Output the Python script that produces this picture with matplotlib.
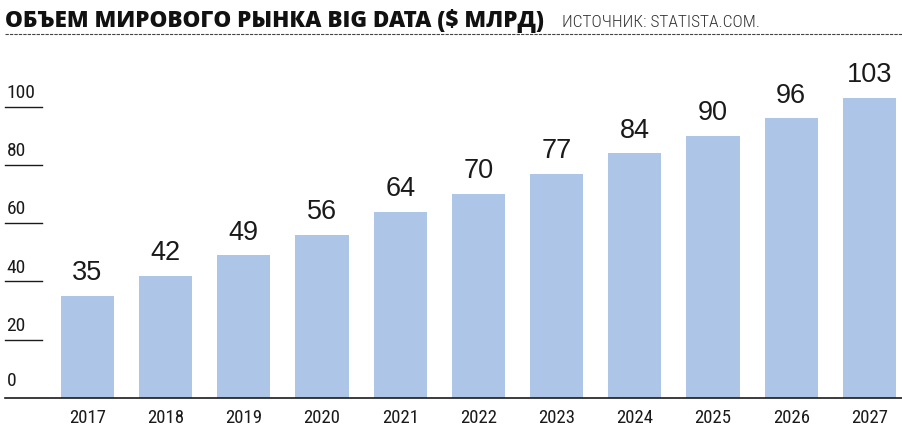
import matplotlib
matplotlib.use("Agg")
import matplotlib.pyplot as plt

# data
years = ['2017', '2018', '2019', '2020', '2021', '2022', '2023', '2024', '2025', '2026', '2027']
values = [35, 42, 49, 56, 64, 70, 77, 84, 90, 96, 103]
yticks = [0, 20, 40, 60, 80, 100]

title = 'ОБЪЕМ МИРОВОГО РЫНКА BIG DATA ($ МЛРД)'
source = 'ИСТОЧНИК: STATISTA.COM.'

cond = ['Roboto Condensed', 'DejaVu Sans']
heavy = ['Open Sans', 'DejaVu Sans']
plain = ['Liberation Sans', 'DejaVu Sans']
bar_color = '#adc5e7'
ink = '#1a1a1a'

W, H = 903, 429
fig = plt.figure(figsize=(W / 100, H / 100), dpi=100)

# axes placed in pixels: left 5, right 903, baseline at y=398, top at y=60
ax = fig.add_axes([5 / W, (H - 398) / H, 898 / W, (398 - 60) / H])
x = list(range(len(years)))
bars = ax.bar(x, values, width=0.68, color=bar_color, zorder=2)
ax.set_xlim(-1.055, 10.43)
ax.set_ylim(0, 116)

for rect, v in zip(bars, values):
    ax.annotate(str(v), (rect.get_x() + rect.get_width() / 2, v),
                xytext=(0, 7), textcoords='offset points',
                ha='center', va='bottom', fontsize=19.5, family=plain, color=ink)

for s in ['top', 'right', 'left']:
    ax.spines[s].set_visible(False)
ax.spines['bottom'].set_linewidth(1.2)
ax.spines['bottom'].set_color(ink)

ax.set_xticks(x)
ax.set_xticklabels(years, family=cond, fontsize=13.5, color=ink)
ax.tick_params(axis='x', length=0, pad=8)
ax.set_yticks([])

# short rules with the value above them
trans = ax.get_yaxis_transform()
for t in yticks:
    if t > 0:
        ax.plot([0, 37 / 898], [t, t], transform=trans, color=ink, lw=1.0, clip_on=False)
    ax.annotate(str(t), (1.5 / 898, t), xycoords=trans, xytext=(0, 3.5 if t > 0 else 6),
                textcoords='offset points', ha='left', va='bottom',
                fontsize=14, family=cond, color=ink)

# header
fig.text(5 / W, (H - 27) / H, title, family=heavy, fontweight=800, fontsize=16.2,
         color='#111111', ha='left', va='baseline')
fig.text(562 / W, (H - 27) / H, source, family=cond, fontweight=300, fontsize=12.5,
         color='#333333', ha='left', va='baseline')
fig.add_artist(plt.Line2D([5 / W, 1.0], [(H - 34) / H] * 2, transform=fig.transFigure,
                          color='#444444', lw=0.8, linestyle=(0, (3, 1))))

fig.savefig('out.png', dpi=100)
